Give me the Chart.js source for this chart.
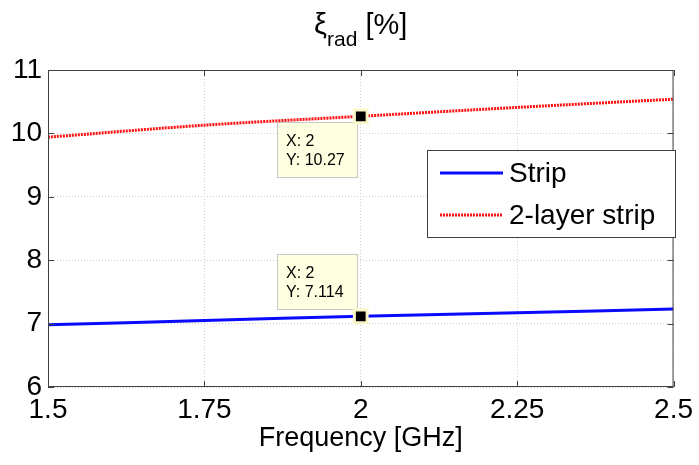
<!DOCTYPE html>
<html>
<head>
<meta charset="utf-8">
<script src="https://cdn.jsdelivr.net/npm/chart.js@4/dist/chart.umd.min.js"></script>
<style>
html,body{margin:0;padding:0;background:#fff;}
#wrap{width:699px;height:465px;position:relative;}
</style>
</head>
<body>
<div id="wrap"><canvas id="c" width="699" height="465"></canvas></div>
<script>
// ---- data ----
const frequencies = [1.5, 1.75, 2, 2.25, 2.5];
const stripValues = [6.98, 7.05, 7.114, 7.17, 7.23];
const twoLayerValues = [9.94, 10.13, 10.27, 10.41, 10.54];
const xTickLabels = ['1.5', '1.75', '2', '2.25', '2.5'];
const yTickLabels = ['6', '7', '8', '9', '10', '11'];
const seriesNames = ['Strip', '2-layer strip'];
const tipX = [2, 2];
const tipY = [7.114, 10.27];
const tipTexts = [['X: 2', 'Y: 7.114'], ['X: 2', 'Y: 10.27']];
const titleMain = 'ξ', titleSub = 'rad', titleRest = ' [%]';
const xTitle = 'Frequency [GHz]';

const FONT = '"Liberation Sans", Arial, sans-serif';
const BLUE = '#0a0aff', RED = '#ff1010';

const toXY = (xs, ys) => xs.map((x, i) => ({x: x, y: ys[i]}));

const overlay = {
  id: 'overlay',
  beforeDatasetsDraw(chart) {
    const ctx = chart.ctx;
    const xs = chart.scales.x, ys = chart.scales.y;
    ctx.save();
    tipX.forEach((xv, i) => {
      const px = xs.getPixelForValue(xv), py = ys.getPixelForValue(tipY[i]);
      const bw = 80, bh = 55;
      const bx = Math.round(px - 84);
      const by = Math.round(i === 0 ? py - 62 : py + 6);
      ctx.fillStyle = '#ffffe1';
      ctx.fillRect(bx, by, bw, bh);
      ctx.strokeStyle = '#c8c8c8'; ctx.lineWidth = 1;
      ctx.strokeRect(bx + 0.5, by + 0.5, bw, bh);
      ctx.fillStyle = '#000'; ctx.font = '16px ' + FONT;
      ctx.textAlign = 'left'; ctx.textBaseline = 'alphabetic';
      ctx.fillText(tipTexts[i][0], bx + 9, by + 24);
      ctx.fillText(tipTexts[i][1], bx + 9, by + 43);
    });
    ctx.restore();
  },
  afterDraw(chart) {
    const ctx = chart.ctx, a = chart.chartArea;
    const xs = chart.scales.x, ys = chart.scales.y;
    ctx.save();
    // box
    ctx.strokeStyle = '#404040'; ctx.lineWidth = 1;
    ctx.strokeRect(a.left + 0.5, a.top + 0.5, a.right - a.left - 1, a.bottom - a.top - 1);
    // inward ticks
    const tl = 6;
    ctx.beginPath();
    xs.ticks.forEach(t => {
      const px = Math.round(xs.getPixelForValue(t.value)) + 0.5;
      ctx.moveTo(px, a.bottom); ctx.lineTo(px, a.bottom - tl);
      ctx.moveTo(px, a.top); ctx.lineTo(px, a.top + tl);
    });
    ys.ticks.forEach(t => {
      const py = Math.round(ys.getPixelForValue(t.value)) + 0.5;
      ctx.moveTo(a.left, py); ctx.lineTo(a.left + tl, py);
      ctx.moveTo(a.right, py); ctx.lineTo(a.right - tl, py);
    });
    ctx.stroke();

    // title
    ctx.fillStyle = '#000';
    ctx.textBaseline = 'alphabetic';
    ctx.font = '29px ' + FONT;
    const w1 = ctx.measureText(titleMain).width;
    const w3 = ctx.measureText(titleRest).width;
    ctx.font = '21px ' + FONT;
    const w2 = ctx.measureText(titleSub).width;
    const total = w1 + w2 + w3;
    let tx = (a.left + a.right) / 2 - total / 2;
    const base = 34;
    ctx.font = '29px ' + FONT; ctx.textAlign = 'left';
    ctx.fillText(titleMain, tx, base); tx += w1;
    ctx.font = '21px ' + FONT;
    ctx.fillText(titleSub, tx, base + 12); tx += w2;
    ctx.font = '29px ' + FONT;
    ctx.fillText(titleRest, tx, base);

    // legend
    const lx = 427, ly = 150, lw = 248, lh = 87;
    ctx.fillStyle = '#fff';
    ctx.fillRect(lx, ly, lw, lh);
    ctx.strokeStyle = '#404040'; ctx.lineWidth = 1;
    ctx.strokeRect(lx + 0.5, ly + 0.5, lw, lh);
    const rows = [{c: BLUE, dash: [], y: 173}, {c: RED, dash: [2, 1], y: 215}];
    rows.forEach((r, i) => {
      ctx.strokeStyle = r.c; ctx.lineWidth = 3; ctx.setLineDash(r.dash);
      ctx.beginPath(); ctx.moveTo(440, r.y); ctx.lineTo(503, r.y); ctx.stroke();
      ctx.setLineDash([]);
      ctx.fillStyle = '#000'; ctx.font = '28px ' + FONT;
      ctx.textAlign = 'left'; ctx.textBaseline = 'middle';
      ctx.fillText(seriesNames[i], 509, r.y + 1);
    });
    ctx.restore();
  }
};

new Chart(document.getElementById('c'), {
  type: 'line',
  data: {
    datasets: [
      {label: seriesNames[0], data: toXY(frequencies, stripValues), borderColor: BLUE, borderWidth: 3, pointRadius: 0, tension: 0.3, fill: false, order: 2},
      {label: seriesNames[1], data: toXY(frequencies, twoLayerValues), borderColor: RED, borderWidth: 3, borderDash: [2, 1], pointRadius: 0, tension: 0.3, fill: false, order: 1},
      {label: 'tips', data: toXY(tipX, tipY), showLine: false, pointStyle: 'rect', pointRadius: 9, pointBorderWidth: 3, pointBackgroundColor: '#000', pointBorderColor: '#f7f7c8', order: 0}
    ]
  },
  options: {
    responsive: false,
    animation: false,
    events: [],
    layout: {padding: {top: 70, right: 24, left: 0, bottom: 0}},
    plugins: {legend: {display: false}, tooltip: {enabled: false}, title: {display: false}},
    scales: {
      x: {
        type: 'linear', min: 1.5, max: 2.5,
        afterFit: s => { s.height = 78; },
        afterBuildTicks: s => { s.ticks = frequencies.map(v => ({value: v})); },
        ticks: {
          callback: (v, i) => xTickLabels[i],
          font: {family: FONT, size: 28}, color: '#000', padding: 6, maxRotation: 0, autoSkip: false
        },
        grid: {color: '#cfcfcf', lineWidth: 1, drawTicks: false},
        border: {display: false, dash: [1, 2]},
        title: {display: true, text: xTitle, font: {family: FONT, size: 27}, color: '#000', padding: {top: 0, bottom: 10}}
      },
      y: {
        type: 'linear', min: 6, max: 11,
        afterFit: s => { s.width = 48; },
        afterBuildTicks: s => { s.ticks = yTickLabels.map(v => ({value: Number(v)})); },
        ticks: {
          callback: (v, i) => yTickLabels[i],
          font: {family: FONT, size: 28}, color: '#000', padding: 6, autoSkip: false
        },
        grid: {color: '#cfcfcf', lineWidth: 1, drawTicks: false},
        border: {display: false, dash: [1, 2]}
      }
    }
  },
  plugins: [overlay]
});
</script>
</body>
</html>
